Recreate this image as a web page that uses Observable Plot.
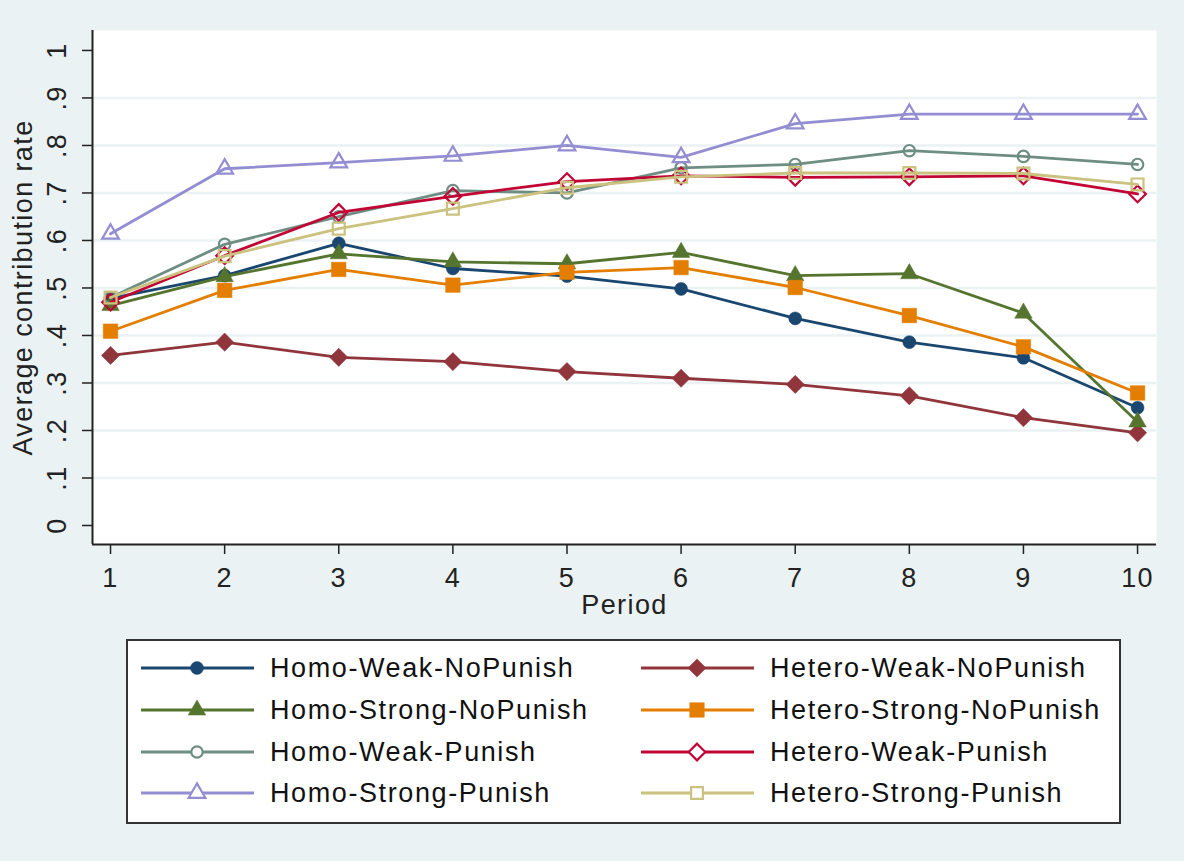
<!DOCTYPE html>
<html><head><meta charset="utf-8">
<script src="https://cdn.jsdelivr.net/npm/d3@7"></script>
<script src="https://cdn.jsdelivr.net/npm/@observablehq/plot@0.6"></script>
<style>
html,body{margin:0;padding:0;background:#eaf2f3;}
#wrap{position:relative;width:1184px;height:861px;overflow:hidden;font-family:"Liberation Sans",Arial,sans-serif;}
#chart svg{display:block;}
#legend{position:absolute;left:126px;top:639px;width:991px;height:181px;background:#fff;border:2px solid #333;}
.item{position:absolute;height:40px;display:flex;align-items:center;}
.item svg{display:block;flex:none;}
.item span{font-size:27px;letter-spacing:1.6px;color:#111;white-space:nowrap;position:absolute;}
</style></head>
<body><div id="wrap"><div id="chart"></div><div id="legend"></div></div>
<script>
// ---- data ----
const periods = [1, 2, 3, 4, 5, 6, 7, 8, 9, 10];
const seriesNames = [
  "Homo-Weak-NoPunish", "Hetero-Weak-NoPunish",
  "Homo-Strong-NoPunish", "Hetero-Strong-NoPunish",
  "Homo-Weak-Punish", "Hetero-Weak-Punish",
  "Homo-Strong-Punish", "Hetero-Strong-Punish"
];
const homoWeakNoPunish    = [0.478, 0.526, 0.594, 0.541, 0.525, 0.498, 0.436, 0.386, 0.353, 0.248];
const heteroWeakNoPunish  = [0.358, 0.386, 0.354, 0.345, 0.324, 0.310, 0.297, 0.273, 0.227, 0.195];
const homoStrongNoPunish  = [0.463, 0.524, 0.572, 0.555, 0.551, 0.575, 0.526, 0.530, 0.447, 0.218];
const heteroStrongNoPunish= [0.409, 0.495, 0.539, 0.506, 0.533, 0.543, 0.501, 0.442, 0.376, 0.279];
const homoWeakPunish      = [0.480, 0.592, 0.650, 0.705, 0.700, 0.753, 0.760, 0.789, 0.777, 0.760];
const heteroWeakPunish    = [0.470, 0.568, 0.659, 0.693, 0.724, 0.736, 0.733, 0.734, 0.736, 0.698];
const homoStrongPunish    = [0.614, 0.751, 0.764, 0.778, 0.800, 0.775, 0.846, 0.866, 0.866, 0.866];
const heteroStrongPunish  = [0.480, 0.567, 0.625, 0.667, 0.711, 0.734, 0.742, 0.742, 0.741, 0.718];
const seriesValues = [homoWeakNoPunish, heteroWeakNoPunish, homoStrongNoPunish, heteroStrongNoPunish,
                      homoWeakPunish, heteroWeakPunish, homoStrongPunish, heteroStrongPunish];
const yTickValues = [0, 0.1, 0.2, 0.3, 0.4, 0.5, 0.6, 0.7, 0.8, 0.9, 1];
const yTickLabels = ["0", ".1", ".2", ".3", ".4", ".5", ".6", ".7", ".8", ".9", "1"];
const xLabel = "Period";
const yLabel = "Average contribution rate";

// ---- styles (Stata s2color) ----
const styles = [
  {color: "#1a476f", symbol: "circle",   filled: true,  r: 6.5},
  {color: "#90353b", symbol: "diamond2", filled: true,  r: 8.2},
  {color: "#55752f", symbol: "triangle", filled: true,  r: 6.5},
  {color: "#e37e00", symbol: "square",   filled: true,  r: 8.2},
  {color: "#6e8e84", symbol: "circle",   filled: false, r: 5.7},
  {color: "#c10534", symbol: "diamond2", filled: false, r: 7.5},
  {color: "#938dd2", symbol: "triangle", filled: false, r: 6.2},
  {color: "#cac27e", symbol: "square",   filled: false, r: 6.7}
];

const table = seriesNames.flatMap((s, i) => periods.map((p, j) => ({series: s, period: p, value: seriesValues[i][j]})));

const xDomain = [0.842, 10.166];
const yDomain = [-0.04, 1.042];
const axisColor = "#222";
const lineWidth = 2.8;

const marks = [
  Plot.frame({fill: "white", stroke: null}),
  Plot.gridY(yTickValues.slice(1, -1), {stroke: "#eaf2f3", strokeOpacity: 1, strokeWidth: 2.5}),
  Plot.ruleX([xDomain[0]], {stroke: axisColor, strokeWidth: 2}),
  Plot.ruleY([yDomain[0]], {stroke: axisColor, strokeWidth: 2}),
  Plot.axisX({ticks: periods, label: null, tickSize: 10, tickPadding: 13, tickFormat: d => String(d), stroke: axisColor, strokeWidth: 1.5, fill: axisColor}),
  Plot.axisY({ticks: yTickValues, label: null, tickSize: 10, tickFormat: () => "", stroke: axisColor, strokeWidth: 1.5}),
  Plot.text(yTickValues, {y: d => d, text: (d, i) => yTickLabels[i], frameAnchor: "left", textAnchor: "middle", lineAnchor: "middle", dx: -35, rotate: -90, fill: axisColor}),
  Plot.text([yLabel], {frameAnchor: "left", textAnchor: "middle", lineAnchor: "middle", dx: -69, rotate: -90, fill: axisColor}),
  Plot.text([xLabel], {frameAnchor: "bottom", textAnchor: "middle", lineAnchor: "middle", dy: 61, fill: axisColor})
];
seriesNames.forEach((s, i) => {
  const st = styles[i];
  const rows = table.filter(d => d.series === s);
  marks.push(Plot.line(rows, {x: "period", y: "value", stroke: st.color, strokeWidth: lineWidth}));
  marks.push(Plot.dot(rows, {x: "period", y: "value", symbol: st.symbol, r: st.r,
    fill: st.filled ? st.color : "none", stroke: st.color, strokeWidth: st.filled ? 0.5 : 2.2}));
});

const chart = Plot.plot({
  width: 1184, height: 630,
  marginLeft: 92, marginRight: 28, marginTop: 30, marginBottom: 86,
  x: {domain: xDomain, axis: null},
  y: {domain: yDomain, axis: null},
  style: {background: "transparent", fontSize: "27px", fontFamily: "'Liberation Sans', Arial, sans-serif", letterSpacing: "1.4px", color: axisColor},
  marks
});
document.getElementById("chart").appendChild(chart);

// ---- legend ----
const symMap = {circle: d3.symbolCircle, diamond2: d3.symbolDiamond2, triangle: d3.symbolTriangle, square: d3.symbolSquare};
const legend = document.getElementById("legend");
const colLeft = [11, 511];
const rowTop = [7, 49, 91, 132];
seriesNames.forEach((s, i) => {
  const st = styles[i];
  const col = i % 2, row = Math.floor(i / 2);
  const div = document.createElement("div");
  div.className = "item";
  div.style.left = colLeft[col] + "px";
  div.style.top = rowTop[row] + "px";
  const path = d3.symbol().type(symMap[st.symbol]).size(Math.PI * st.r * st.r)();
  div.innerHTML = `<svg width="118" height="40"><line x1="2" x2="115" y1="20" y2="20" stroke="${st.color}" stroke-width="${lineWidth}"/>` +
    `<path transform="translate(58,20)" d="${path}" fill="${st.filled ? st.color : "white"}" stroke="${st.color}" stroke-width="${st.filled ? 0.5 : 2.2}"/></svg>` +
    `<span style="left:131px">${s}</span>`;
  legend.appendChild(div);
});
</script>
</body></html>
